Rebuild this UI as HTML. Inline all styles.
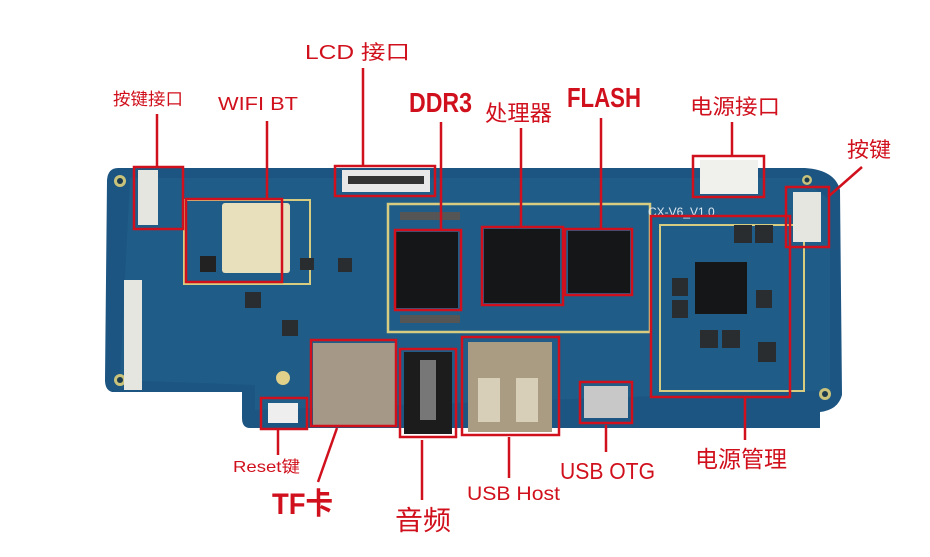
<!DOCTYPE html>
<html><head><meta charset="utf-8"><style>
html,body{margin:0;padding:0;background:#fff;}
svg{display:block}
text{font-family:"Liberation Sans","Noto Sans CJK SC",sans-serif;fill:#d0101c;}
</style></head><body>
<svg width="930" height="557" viewBox="0 0 930 557" xmlns="http://www.w3.org/2000/svg">
<rect width="930" height="557" fill="#fff"/>
<path d="M118,168 L805,168 Q835,170 840,190 L842,395 Q838,410 820,412 L820,428 L250,428 Q242,428 242,418 L242,392 L112,392 Q105,390 105,380 L107,180 Q108,168 118,168 Z" fill="#1c5582"/>
<path d="M130,178 L800,178 L830,200 L830,390 L255,410 L255,385 L120,380 Z" fill="#23678f" opacity="0.45"/>
<g fill="#c9c27a"><circle cx="120" cy="181" r="6"/><circle cx="120" cy="380" r="6"/><circle cx="825" cy="394" r="6"/><circle cx="807" cy="180" r="5"/></g>
<g fill="#1a3a50"><circle cx="120" cy="181" r="3"/><circle cx="120" cy="380" r="3"/><circle cx="825" cy="394" r="3"/><circle cx="807" cy="180" r="2.5"/></g>
<rect x="388" y="204" width="262" height="128" fill="none" stroke="#d8cc80" stroke-width="2.5"/>
<rect x="184" y="200" width="126" height="84" fill="none" stroke="#d8cc80" stroke-width="2"/>
<rect x="660" y="225" width="144" height="166" fill="none" stroke="#d8cc80" stroke-width="2"/>
<rect x="138" y="170" width="20" height="55" fill="#e6e6e0"/>
<rect x="124" y="280" width="18" height="110" fill="#e6e6e0"/>
<rect x="342" y="170" width="88" height="22" fill="#e8e8e8"/>
<rect x="348" y="176" width="76" height="8" fill="#333"/>
<rect x="700" y="160" width="58" height="34" fill="#f0f0ec"/>
<rect x="793" y="192" width="28" height="50" fill="#e6e6e0"/>
<rect x="222" y="203" width="68" height="70" rx="3" fill="#e8dfbd"/>
<rect x="200" y="256" width="16" height="16" fill="#222"/>
<rect x="396" y="232" width="62" height="76" fill="#141618"/>
<rect x="484" y="229" width="76" height="74" fill="#141618"/>
<rect x="568" y="231" width="62" height="62" fill="#141618"/>
<rect x="695" y="262" width="52" height="52" fill="#141618"/>
<rect x="400" y="212" width="60" height="8" fill="#555"/>
<rect x="400" y="315" width="60" height="8" fill="#555"/>
<g fill="#2a2d30"><rect x="734" y="225" width="18" height="18"/><rect x="755" y="225" width="18" height="18"/><rect x="672" y="278" width="16" height="18"/><rect x="672" y="300" width="16" height="18"/><rect x="756" y="290" width="16" height="18"/><rect x="700" y="330" width="18" height="18"/><rect x="722" y="330" width="18" height="18"/><rect x="758" y="342" width="18" height="20"/><rect x="245" y="292" width="16" height="16"/><rect x="338" y="258" width="14" height="14"/><rect x="300" y="258" width="14" height="12"/><rect x="282" y="320" width="16" height="16"/></g>
<rect x="313" y="343" width="82" height="82" fill="#a69886"/>
<rect x="404" y="352" width="48" height="82" fill="#1c1c1c"/>
<rect x="420" y="360" width="16" height="60" fill="#777"/>
<rect x="468" y="342" width="84" height="90" fill="#a99c82"/>
<rect x="478" y="378" width="22" height="44" fill="#d8cfb8"/>
<rect x="516" y="378" width="22" height="44" fill="#d8cfb8"/>
<rect x="584" y="386" width="44" height="32" fill="#c8c8c8"/>
<circle cx="283" cy="378" r="7" fill="#e0d08a"/>
<rect x="268" y="403" width="30" height="20" fill="#eee"/>
<text x="648" y="216" font-size="12" style="fill:#dde6ee">CX-V6_V1.0</text>
<g fill="none" stroke="#d0101c" stroke-width="2.5">
<rect x="134" y="167" width="49" height="62"/>
<rect x="186" y="199" width="96" height="83"/>
<rect x="335" y="166" width="100" height="30"/>
<rect x="395" y="230" width="66" height="80"/>
<rect x="482" y="227" width="81" height="78"/>
<rect x="565" y="229" width="67" height="66"/>
<rect x="693" y="156" width="71" height="41"/>
<rect x="786" y="187" width="43" height="60"/>
<rect x="651" y="216" width="139" height="181"/>
<rect x="311" y="340" width="85" height="86"/>
<rect x="400" y="349" width="56" height="88"/>
<rect x="462" y="337" width="97" height="98"/>
<rect x="580" y="382" width="52" height="41"/>
<rect x="261" y="398" width="46" height="31"/>
</g>
<g stroke="#d0101c" stroke-width="2.5">
<line x1="157" y1="114" x2="157" y2="167"/>
<line x1="267" y1="121" x2="267" y2="199"/>
<line x1="363" y1="68" x2="363" y2="166"/>
<line x1="441" y1="122" x2="441" y2="230"/>
<line x1="521" y1="128" x2="521" y2="227"/>
<line x1="601" y1="118" x2="601" y2="229"/>
<line x1="732" y1="122" x2="732" y2="156"/>
<line x1="862" y1="167" x2="829" y2="196"/>
<line x1="278" y1="429" x2="278" y2="455"/>
<line x1="337" y1="428" x2="318" y2="482"/>
<line x1="422" y1="440" x2="422" y2="500"/>
<line x1="509" y1="437" x2="509" y2="478"/>
<line x1="606" y1="425" x2="606" y2="452"/>
<line x1="745" y1="397" x2="745" y2="440"/>
</g>
<text x="113" y="105" font-size="17" textLength="70" lengthAdjust="spacingAndGlyphs">按键接口</text>
<text x="218" y="110" font-size="18" textLength="80" lengthAdjust="spacingAndGlyphs">WIFI BT</text>
<text x="305" y="59" font-size="20" textLength="105" lengthAdjust="spacingAndGlyphs">LCD 接口</text>
<text x="409" y="112" font-size="28" font-weight="bold" textLength="63" lengthAdjust="spacingAndGlyphs">DDR3</text>
<text x="485" y="121" font-size="22" textLength="67" lengthAdjust="spacingAndGlyphs">处理器</text>
<text x="567" y="107" font-size="28" font-weight="bold" textLength="74" lengthAdjust="spacingAndGlyphs">FLASH</text>
<text x="690" y="114" font-size="21" textLength="90" lengthAdjust="spacingAndGlyphs">电源接口</text>
<text x="847" y="157" font-size="21" textLength="44" lengthAdjust="spacingAndGlyphs">按键</text>
<text x="233" y="472" font-size="16" textLength="67" lengthAdjust="spacingAndGlyphs">Reset键</text>
<text x="272" y="514" font-size="30" font-weight="bold" textLength="61" lengthAdjust="spacingAndGlyphs">TF卡</text>
<text x="395" y="530" font-size="27" textLength="56" lengthAdjust="spacingAndGlyphs">音频</text>
<text x="467" y="500" font-size="19" textLength="93" lengthAdjust="spacingAndGlyphs">USB Host</text>
<text x="560" y="479" font-size="23" textLength="95" lengthAdjust="spacingAndGlyphs">USB OTG</text>
<text x="695" y="467" font-size="23" textLength="92" lengthAdjust="spacingAndGlyphs">电源管理</text>
</svg>
</body></html>
